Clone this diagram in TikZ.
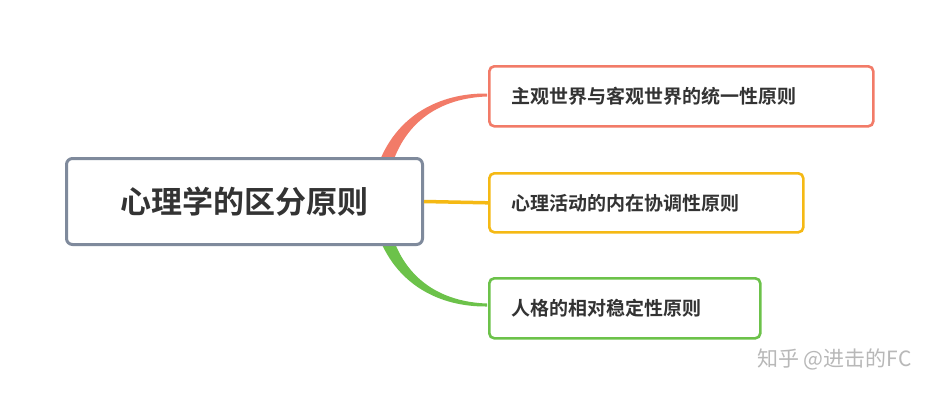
\documentclass[tikz,border=0pt]{standalone}
\usepackage{fontspec}
\newfontfamily\cjk{Noto Sans CJK SC}[BoldFont={Noto Sans CJK SC Bold}]
\definecolor{cgray}{HTML}{7F8A9C}
\definecolor{cred}{HTML}{F27B68}
\definecolor{cyel}{HTML}{F5B914}
\definecolor{cgrn}{HTML}{6CC24A}
\definecolor{ctxt}{HTML}{333333}
\tikzset{
  child/.style={draw, line width=2.6pt, rounded corners=5pt, fill=white, anchor=north west, inner xsep=22pt, inner ysep=0pt, align=left, font=\cjk\bfseries\fontsize{19}{22}\selectfont, text=ctxt},
}
\begin{document}
\begin{tikzpicture}[x=1pt,y=-1pt]
\useasboundingbox[fill=white] (0,0) rectangle (937,400);
% connectors
\fill[cred] (377,168) .. controls (395,115) and (440,93) .. (487,93.5) -- (487,96.5) .. controls (442,98) and (405,120) .. (391,168) -- cycle;
\fill[cgrn] (377,232) .. controls (395,285) and (440,307) .. (487,306.5) -- (487,303.5) .. controls (442,302) and (405,280) .. (391,232) -- cycle;
\node[draw=cgray, line width=3pt, rounded corners=6pt, fill=white, minimum width=356pt, minimum height=86pt, anchor=north west, font=\cjk\bfseries\fontsize{31}{36}\selectfont, text=ctxt] (c) at (65,157) {心理学的区分原则};
\node[child, draw=cred, text width=340pt, minimum height=60pt] (a) at (488,65) {主观世界与客观世界的统一性原则};
\node[child, draw=cyel, text width=270pt, minimum height=59pt] (b) at (488,172) {心理活动的内在协调性原则};
\node[child, draw=cgrn, text width=227pt, minimum height=60pt] (d) at (488,277) {人格的相对稳定性原则};
\draw[cyel, line width=3.5pt] (c.east) -- (b.west);
\node[text=black!28, font=\cjk\fontsize{21}{24}\selectfont, anchor=east] (w) at (915,359) {知乎 @进击的FC};
\end{tikzpicture}
\end{document}
